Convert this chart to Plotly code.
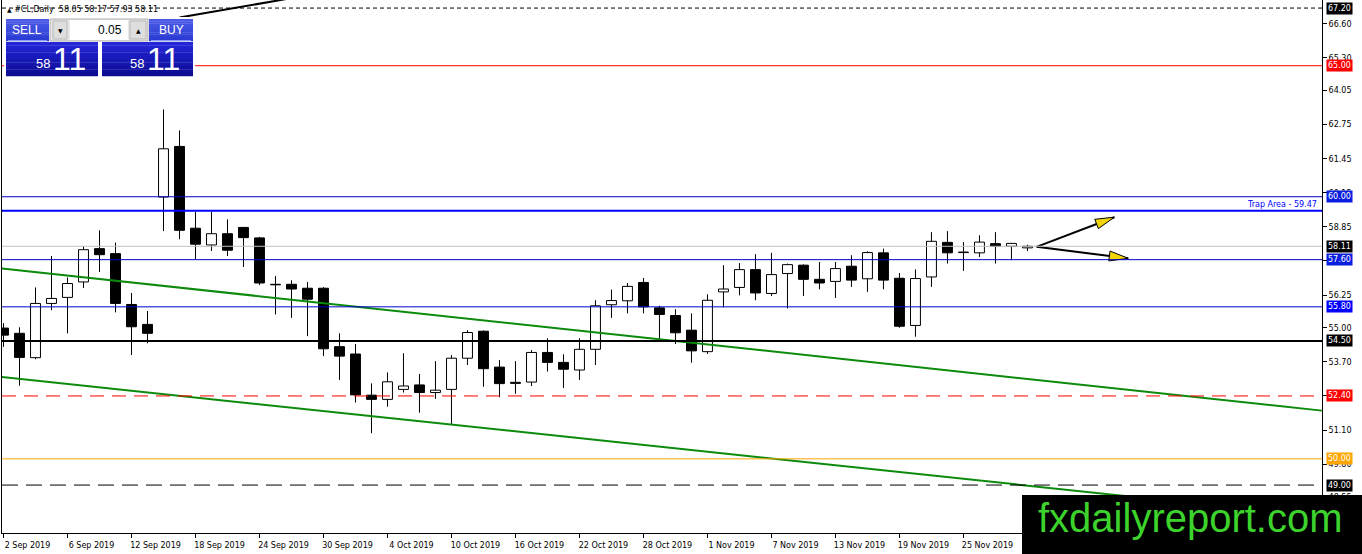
import math
import pandas as pd
import plotly.graph_objects as go

# ---------------- data ----------------
DATES = [d.strftime("%d %b %Y") for d in pd.bdate_range("2019-09-02", "2019-11-29")]

OPEN = [54.99, 54.79, 53.86, 55.93, 56.16, 56.75, 58.02, 57.83, 55.89, 55.13,
        59.99, 61.92, 58.80, 58.16, 58.59, 58.83, 58.43, 56.66, 56.66, 56.51,
        56.51, 54.28, 54.00, 52.43, 52.27, 52.65, 52.82, 52.53, 52.65, 53.84,
        54.87, 53.50, 52.92, 52.93, 54.06, 53.68, 53.39, 54.18, 55.88, 56.03,
        56.73, 55.76, 55.47, 54.91, 54.09, 56.37, 56.54, 57.22, 56.31, 57.07,
        57.39, 56.85, 56.77, 57.35, 56.87, 57.86, 56.89, 55.09, 56.94, 58.26,
        57.87, 57.86, 58.21, 58.11, 58.05]
HIGH = [55.18, 55.02, 56.54, 57.74, 56.92, 58.12, 58.72, 58.25, 56.33, 55.64,
        63.33, 62.53, 59.42, 59.42, 59.14, 58.85, 58.47, 56.98, 56.81, 56.75,
        56.55, 54.79, 54.38, 52.88, 53.30, 54.03, 53.24, 53.73, 53.96, 54.91,
        54.90, 53.77, 53.73, 54.15, 54.60, 53.99, 54.60, 56.05, 56.46, 56.71,
        56.90, 55.84, 55.71, 55.55, 56.28, 57.39, 57.47, 57.81, 57.86, 57.45,
        57.42, 57.51, 57.51, 57.77, 57.92, 58.02, 57.09, 57.23, 58.65, 58.69,
        58.27, 58.53, 58.65, 58.24, 58.17]
LOW = [54.27, 52.79, 53.80, 55.67, 54.79, 56.52, 57.13, 55.59, 53.96, 54.41,
       58.69, 58.38, 57.62, 57.93, 57.74, 57.32, 56.63, 55.51, 55.38, 54.68,
       53.92, 53.01, 52.15, 50.98, 51.99, 52.53, 51.76, 52.29, 51.32, 53.58,
       52.75, 52.35, 52.48, 52.78, 53.33, 52.70, 53.01, 53.58, 55.38, 55.55,
       55.55, 54.56, 54.38, 53.67, 54.00, 55.78, 56.24, 56.05, 56.21, 55.74,
       56.21, 56.47, 56.14, 56.56, 56.37, 56.47, 55.00, 54.66, 56.56, 57.45,
       57.17, 57.70, 57.45, 57.58, 57.93]
CLOSE = [54.72, 53.87, 55.93, 56.12, 56.69, 57.98, 57.79, 55.93, 55.04, 54.79,
         61.83, 58.72, 58.19, 58.59, 57.96, 58.44, 56.71, 56.64, 56.48, 56.09,
         54.20, 53.92, 52.44, 52.27, 52.94, 52.78, 52.53, 52.62, 53.84, 54.82,
         53.44, 52.87, 52.88, 54.06, 53.68, 53.42, 54.18, 55.84, 56.04, 56.58,
         55.80, 55.51, 54.81, 54.12, 56.05, 56.48, 57.22, 56.33, 57.03, 57.41,
         56.85, 56.71, 57.26, 56.82, 57.87, 56.82, 55.06, 56.88, 58.30, 57.86,
         57.89, 58.27, 58.11, 58.22, 58.11]

TICK_IDX = [0, 4, 8, 12, 16, 20, 24, 28, 32, 36, 40, 44, 48, 52, 56, 60]
TICK_LABELS = ["2 Sep 2019", "6 Sep 2019", "12 Sep 2019", "18 Sep 2019",
               "24 Sep 2019", "30 Sep 2019", "4 Oct 2019", "10 Oct 2019",
               "16 Oct 2019", "22 Oct 2019", "28 Oct 2019", "1 Nov 2019",
               "7 Nov 2019", "13 Nov 2019", "19 Nov 2019", "25 Nov 2019"]
Y_TICKS = [66.60, 65.30, 64.05, 62.75, 61.45, 60.15, 58.85, 57.55, 56.25,
           55.00, 53.70, 52.40, 51.10, 49.80, 48.55]

# horizontal levels drawn on the chart
LEVELS = [67.20, 65.00, 60.00, 59.47, 58.11, 57.60, 55.80, 54.50, 52.40, 50.00, 49.00]
LEVEL_TAGS = [67.20, 65.00, 60.00, 58.11, 57.60, 55.80, 54.50, 52.40, 50.00, 49.00]
TRAP_LEVEL = 59.47
TRAP_TEXT = "Trap Area - 59.47"

# drawn trend lines (bar index, price)
CHANNEL_X = [-0.22, 82.4]
CHANNEL_UPPER = [57.27, 51.84]
CHANNEL_LOWER = [53.13, 47.79]
TOP_LINE_X = [11.0, 18.0]
TOP_LINE_Y = [66.835, 67.58]
ARROW_START = [64.57, 58.09]
ARROW_ENDS = [[69.43, 59.22], [70.30, 57.65]]

HEADER = "#CL,Daily  58.05 58.17 57.93 58.11"
WATERMARK = "fxdailyreport.com"

# ---------------- layout geometry ----------------
FIG_W, FIG_H = 1362, 554
M_L, M_R, M_T, M_B = 2, 40, 0, 21
PW = FIG_W - M_L - M_R
PH = FIG_H - M_T - M_B
X_RANGE = [-0.094, 82.41]
Y_RANGE = [47.171, 67.507]
PX_PER_X = PW / (X_RANGE[1] - X_RANGE[0])
PX_PER_Y = PH / (Y_RANGE[1] - Y_RANGE[0])

FONT = "DejaVu Sans"
UI_FONT = "Liberation Sans, Arial, sans-serif"
N = len(OPEN)
idx = list(range(N))

fig = go.Figure()

# candle bodies
base = [min(o, c) for o, c in zip(OPEN, CLOSE)]
height = [max(abs(c - o), 0.02) for o, c in zip(OPEN, CLOSE)]
colors = ["white" if c >= o else "black" for o, c in zip(OPEN, CLOSE)]
fig.add_trace(go.Bar(x=idx, y=height, base=base, width=0.62,
                     marker=dict(color=colors, line=dict(color="black", width=1)),
                     customdata=list(zip(DATES, OPEN, HIGH, LOW, CLOSE)),
                     hovertemplate="%{customdata[0]}<br>O %{customdata[1]}<br>H %{customdata[2]}"
                                   "<br>L %{customdata[3]}<br>C %{customdata[4]}<extra></extra>"))

# wicks (upper + lower segments)
wx, wy = [], []
for i in idx:
    top = max(OPEN[i], CLOSE[i])
    bot = min(OPEN[i], CLOSE[i])
    wx += [i, i, None, i, i, None]
    wy += [top, HIGH[i], None, LOW[i], bot, None]
fig.add_trace(go.Scatter(x=wx, y=wy, mode="lines", line=dict(color="black", width=1),
                         hoverinfo="skip"))

# channel lines
GREEN = "#0c8a0c"
for ys in (CHANNEL_UPPER, CHANNEL_LOWER):
    fig.add_trace(go.Scatter(x=CHANNEL_X, y=ys, mode="lines",
                             line=dict(color=GREEN, width=2), hoverinfo="skip"))
# black diagonal line at top
fig.add_trace(go.Scatter(x=TOP_LINE_X, y=TOP_LINE_Y, mode="lines",
                         line=dict(color="black", width=2), hoverinfo="skip"))

# arrows
HEAD_LEN, HEAD_HALF = 19.0, 5.0
for end in ARROW_ENDS:
    fig.add_trace(go.Scatter(x=[ARROW_START[0], end[0]], y=[ARROW_START[1], end[1]],
                             mode="lines", line=dict(color="black", width=2), hoverinfo="skip"))
    dxp = (end[0] - ARROW_START[0]) * PX_PER_X
    dyp = (end[1] - ARROW_START[1]) * PX_PER_Y
    ln = math.hypot(dxp, dyp)
    ux, uy = dxp / ln, dyp / ln
    nx, ny = -uy, ux
    bx, by = -HEAD_LEN * ux, -HEAD_LEN * uy
    pts = [(0, 0), (bx + HEAD_HALF * nx, by + HEAD_HALF * ny),
           (bx - HEAD_HALF * nx, by - HEAD_HALF * ny), (0, 0)]
    fig.add_trace(go.Scatter(x=[end[0] + p[0] / PX_PER_X for p in pts],
                             y=[end[1] + p[1] / PX_PER_Y for p in pts],
                             mode="lines", fill="toself", fillcolor="#f2d40a",
                             line=dict(color="black", width=1), hoverinfo="skip"))

shapes = []
annotations = []

# horizontal level lines
LEVEL_STYLE = {
    67.20: ("black", 1, "4px,3px"),
    65.00: ("#ff0000", 1, "solid"),
    60.00: ("#0000cd", 1, "solid"),
    59.47: ("#0000ff", 2, "solid"),
    58.11: ("#c0c0c0", 1, "solid"),
    57.60: ("#0000cd", 1, "solid"),
    55.80: ("#0000cd", 1, "solid"),
    54.50: ("black", 2, "solid"),
    52.40: ("#ff0000", 1, "14px,8px"),
    50.00: ("#ffa500", 1, "solid"),
    49.00: ("black", 1, "16px,8px"),
}
for lv in LEVELS:
    col, w, dash = LEVEL_STYLE[lv]
    shapes.append(dict(type="line", xref="paper", yref="y", x0=0, x1=1, y0=lv, y1=lv,
                       line=dict(color=col, width=w, dash=dash), layer="above"))

TAG_COLOR = {67.20: "black", 65.00: "#ff0000", 60.00: "#0a1ee0", 58.11: "black",
             57.60: "#0a1ee0", 55.80: "#0000ff", 54.50: "black", 52.40: "#ff0000",
             50.00: "#ffa500", 49.00: "black"}
for lv in LEVEL_TAGS:
    annotations.append(dict(xref="paper", yref="y", x=1, y=lv, xanchor="left", xshift=4,
                            text=f"{lv:.2f}", showarrow=False, bgcolor=TAG_COLOR[lv],
                            borderpad=1, font=dict(family=FONT, size=8, color="white")))

annotations.append(dict(xref="paper", yref="y", x=(1319 - M_L) / PW, y=TRAP_LEVEL,
                        xanchor="right", yanchor="bottom", yshift=0, text=TRAP_TEXT,
                        showarrow=False, font=dict(family=FONT, size=8, color="#0000ff")))

# header text
annotations.append(dict(xref="paper", yref="paper", x=(5 - M_L) / PW, y=1 - (10 - M_T) / PH,
                        xanchor="left", yanchor="middle",
                        text="<span style='font-size:6px'>▲</span> " + HEADER,
                        showarrow=False, font=dict(family=FONT, size=8, color="black")))


def PX(x):
    return (x - M_L) / PW


def PY(y):
    return 1 - (y - M_T) / PH


def rect(x0, y0, x1, y1, fill, lc=None, lw=0):
    shapes.append(dict(type="rect", xref="paper", yref="paper", x0=PX(x0), x1=PX(x1),
                       y0=PY(y1), y1=PY(y0), fillcolor=fill,
                       line=dict(width=lw, color=lc or fill), layer="above"))


def hexmix(a, b, t):
    a = [int(a[i:i + 2], 16) for i in (1, 3, 5)]
    b = [int(b[i:i + 2], 16) for i in (1, 3, 5)]
    return "#" + "".join(f"{round(a[k] + (b[k] - a[k]) * t):02x}" for k in range(3))


def grad(x0, y0, x1, y1, ctop, cbot, n=10):
    h = (y1 - y0) / n
    for k in range(n):
        rect(x0, y0 + k * h, x1, y0 + (k + 1) * h + 0.3, hexmix(ctop, cbot, k / (n - 1)))


def text(x, y, s, size, color="white", anchor="center", family=UI_FONT):
    annotations.append(dict(xref="paper", yref="paper", x=PX(x), y=PY(y), text=s,
                            xanchor=anchor, yanchor="middle", showarrow=False,
                            font=dict(family=family, size=size, color=color)))


# one-click trading panel
rect(4, 17, 195, 77, "white")
grad(6, 19, 49, 41, "#4a5ae6", "#2a3bd2")
grad(149, 19, 193, 41, "#4a5ae6", "#2a3bd2")
rect(8, 40, 47, 41, "#8d9af2")
rect(151, 40, 191, 41, "#8d9af2")
grad(6, 42, 98, 76, "#2426d8", "#0c0c94")
grad(102, 42, 193, 76, "#2426d8", "#0c0c94")
rect(50, 19, 148, 41, "#e6e6e6", "#b0b0b0", 1)
rect(53, 21, 67, 39, "#dedede", "#b8b8b8", 1)
rect(70, 20, 128, 40, "white")
rect(130, 21, 146, 39, "#dedede", "#b8b8b8", 1)
text(27, 30, "SELL", 12)
text(171, 30, "BUY", 12)
text(124, 30, "0.05", 12, "black", "right")
text(60, 30, "▼", 6, "black", family=FONT)
text(138, 30, "▲", 6, "black", family=FONT)
text(42.5, 63, "58", 13)
text(69, 59, "11", 32)
text(137, 63, "58", 13)
text(163.5, 59, "11", 32)

# watermark
rect(1022, 495, 1362, 554, "black")
annotations.append(dict(xref="paper", yref="paper", x=PX(1190), y=PY(518), text=WATERMARK,
                        xanchor="center", yanchor="middle", showarrow=False,
                        font=dict(family=UI_FONT, size=40, color="#3cd42c")))

fig.update_layout(
    width=FIG_W, height=FIG_H,
    margin=dict(l=M_L, r=M_R, t=M_T, b=M_B, autoexpand=False),
    paper_bgcolor="white", plot_bgcolor="white",
    showlegend=False, hovermode="closest",
    shapes=shapes, annotations=annotations,
    font=dict(family=FONT, size=8, color="black"),
    xaxis=dict(range=X_RANGE, tickvals=TICK_IDX, ticktext=TICK_LABELS,
               ticks="outside", ticklen=4, tickcolor="black", showline=True,
               linecolor="black", linewidth=1, showgrid=False, zeroline=False,
               ticklabelshift=24, tickfont=dict(family=FONT, size=8, color="black"),
               fixedrange=True),
    yaxis=dict(range=Y_RANGE, side="right", tickvals=Y_TICKS, tickformat=".2f",
               ticks="outside", ticklen=4, tickcolor="black", showline=True, mirror=True,
               linecolor="black", linewidth=1, showgrid=False, zeroline=False,
               tickfont=dict(family=FONT, size=8, color="black"), fixedrange=True),
)

fig.write_html("out.html", config={"displayModeBar": False},
               post_script="document.body.style.margin='0';document.body.style.overflow='hidden';")
